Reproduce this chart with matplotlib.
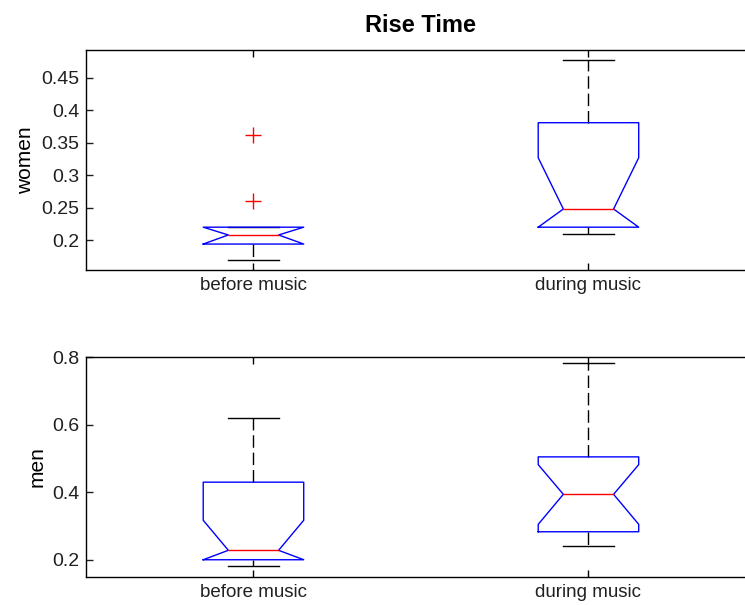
import matplotlib
matplotlib.use('Agg')
import matplotlib.pyplot as plt
from matplotlib.ticker import FuncFormatter

plt.rcParams['font.family'] = ['Liberation Sans', 'DejaVu Sans']

groups = ['before music', 'during music']

# women (top panel)
women_q1 = [0.194, 0.220]
women_med = [0.208, 0.248]
women_q3 = [0.220, 0.381]
women_whislo = [0.170, 0.210]
women_whishi = [0.220, 0.478]
women_cilo = [0.194, 0.220]
women_cihi = [0.220, 0.327]
women_fliers = [[0.260, 0.362], []]
women_ylim = (0.154, 0.493)
women_ticks = [0.2, 0.25, 0.3, 0.35, 0.4, 0.45]

# men (bottom panel)
men_q1 = [0.200, 0.283]
men_med = [0.228, 0.394]
men_q3 = [0.430, 0.505]
men_whislo = [0.181, 0.241]
men_whishi = [0.620, 0.782]
men_cilo = [0.200, 0.305]
men_cihi = [0.317, 0.482]
men_fliers = [[], []]
men_ylim = (0.148, 0.802)
men_ticks = [0.2, 0.4, 0.6, 0.8]


def make_stats(q1, med, q3, lo, hi, cilo, cihi, fliers):
    stats = []
    for i in range(len(groups)):
        stats.append({'label': groups[i], 'q1': q1[i], 'med': med[i], 'q3': q3[i],
                      'whislo': lo[i], 'whishi': hi[i], 'cilo': cilo[i],
                      'cihi': cihi[i], 'fliers': fliers[i]})
    return stats


def draw(ax, stats, ylim, ticks, ylabel):
    ax.bxp(stats, positions=[1, 2], widths=0.3, shownotches=True,
           boxprops=dict(color='#0000ff', lw=1.0, zorder=4),
           medianprops=dict(color='#ff0000', lw=1.0, zorder=5),
           whiskerprops=dict(color='black', lw=1.0, linestyle=(0, (9, 3.5)), zorder=2),
           capprops=dict(color='black', lw=1.0, zorder=3),
           flierprops=dict(marker='+', markeredgecolor='#ff0000', markersize=11,
                           markeredgewidth=1.0, linestyle='none'))
    ax.set_xlim(0.5, 2.5)
    ax.set_ylim(*ylim)
    ax.set_yticks(ticks)
    ax.yaxis.set_major_formatter(FuncFormatter(lambda v, p: '%g' % v))
    ax.set_xticks([1, 2])
    ax.set_xticklabels(groups, fontsize=13.5, color='#202020')
    ax.tick_params(axis='y', labelsize=14, colors='#202020')
    ax.tick_params(direction='in', length=5, width=1, top=True, right=True, pad=5)
    ax.set_ylabel(ylabel, fontsize=15, labelpad=4)
    for s in ax.spines.values():
        s.set_linewidth(1.0)


fig = plt.figure(figsize=(7.45, 6.05), dpi=100)
ax1 = fig.add_axes([0.1154, 0.5537, 0.8993, 0.3636])
ax2 = fig.add_axes([0.1154, 0.0458, 0.8993, 0.3646])

draw(ax1, make_stats(women_q1, women_med, women_q3, women_whislo, women_whishi,
                     women_cilo, women_cihi, women_fliers),
     women_ylim, women_ticks, 'women')
draw(ax2, make_stats(men_q1, men_med, men_q3, men_whislo, men_whishi,
                     men_cilo, men_cihi, men_fliers),
     men_ylim, men_ticks, 'men')

ax1.set_title('Rise Time', fontsize=17, fontweight='bold', pad=13)

fig.savefig('out.png', dpi=100)
